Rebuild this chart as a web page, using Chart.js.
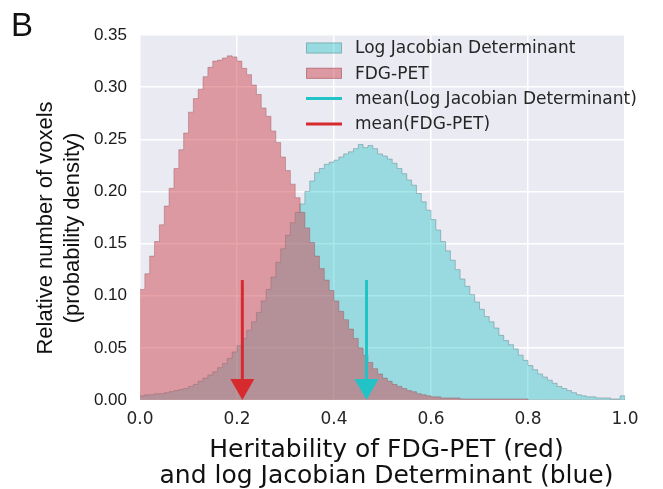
<!DOCTYPE html>
<html>
<head>
<meta charset="utf-8">
<script src="https://cdn.jsdelivr.net/npm/chart.js@4.4.1/dist/chart.umd.min.js"></script>
<style>
  html, body { margin: 0; padding: 0; background: #fff; }
  #wrap { width: 663px; height: 489px; }
</style>
</head>
<body>
<div id="wrap"><canvas id="histChart" width="663" height="489"></canvas></div>
<script>
// histogram bins: left edges from 0.0, 0.01 wide
var binStart = 0.0;
var binWidth = 0.01;

var fdgPet = [
  0.106, 0.121, 0.138, 0.152, 0.168, 0.186, 0.203, 0.222, 0.240, 0.256,
  0.276, 0.289, 0.298, 0.310, 0.319, 0.325, 0.326, 0.328, 0.330, 0.329,
  0.325, 0.318, 0.312, 0.302, 0.293, 0.280, 0.272, 0.258, 0.247, 0.233,
  0.220, 0.207, 0.194, 0.180, 0.165, 0.151, 0.138, 0.126, 0.115, 0.105,
  0.095, 0.085, 0.077, 0.068, 0.059, 0.050, 0.043, 0.036, 0.030, 0.025,
  0.021, 0.018, 0.015, 0.013, 0.011, 0.009, 0.008, 0.006, 0.005, 0.004,
  0.003, 0.003, 0.002, 0.002, 0.002, 0.002, 0.001, 0.001, 0.001, 0.001,
  0.001, 0.001, 0.001, 0.001, 0.001, 0.001, 0.001, 0.001, 0.001, 0.001,
  0, 0, 0, 0, 0, 0, 0, 0, 0, 0,
  0, 0, 0, 0, 0, 0, 0, 0, 0, 0
];

var logJacobian = [
  0.004, 0.005, 0.005, 0.006, 0.006, 0.007, 0.008, 0.009, 0.010, 0.011,
  0.013, 0.015, 0.018, 0.021, 0.024, 0.027, 0.031, 0.035, 0.040, 0.046,
  0.052, 0.059, 0.067, 0.075, 0.084, 0.095, 0.106, 0.118, 0.132, 0.145,
  0.158, 0.170, 0.180, 0.188, 0.200, 0.210, 0.218, 0.222, 0.226, 0.228,
  0.230, 0.233, 0.236, 0.238, 0.241, 0.245, 0.242, 0.244, 0.241, 0.236,
  0.234, 0.231, 0.227, 0.222, 0.217, 0.211, 0.206, 0.198, 0.190, 0.182,
  0.173, 0.163, 0.152, 0.143, 0.134, 0.125, 0.116, 0.109, 0.101, 0.094,
  0.087, 0.080, 0.075, 0.069, 0.062, 0.057, 0.053, 0.049, 0.043, 0.038,
  0.033, 0.029, 0.025, 0.022, 0.019, 0.016, 0.013, 0.011, 0.009, 0.007,
  0.005, 0.004, 0.003, 0.003, 0.002, 0.002, 0.002, 0.001, 0.001, 0.004
];

// means: [log Jacobian, FDG-PET]
var meanValues = [0.467, 0.211];
var arrowStart = 0.115;

var xTicks = [0.0, 0.2, 0.4, 0.6, 0.8, 1.0];
var yTicks = [0.00, 0.05, 0.10, 0.15, 0.20, 0.25, 0.30, 0.35];

var legendLabels = ['Log Jacobian Determinant', 'FDG-PET',
  'mean(Log Jacobian Determinant)', 'mean(FDG-PET)'];

var cyanFill = 'rgba(0,190,192,0.35)';
var redFill = 'rgba(208,72,82,0.5)';
var meanColors = ['#22c3c6', '#d62a2e'];

function toPoints(values) {
  var pts = values.map(function (v, i) {
    return { x: binStart + i * binWidth, y: v };
  });
  pts.push({ x: binStart + values.length * binWidth, y: 0 });
  return pts;
}

// grey seaborn-like plot background
var plotBg = {
  id: 'plotBg',
  beforeDraw: function (chart) {
    var a = chart.chartArea, ctx = chart.ctx;
    ctx.save();
    ctx.fillStyle = '#eaeaf2';
    ctx.fillRect(a.left, a.top, a.right - a.left, a.bottom - a.top);
    ctx.restore();
  }
};

// arrows at the means
var meanArrows = {
  id: 'meanArrows',
  afterDatasetsDraw: function (chart) {
    var xs = chart.scales.x, ys = chart.scales.y, ctx = chart.ctx;
    meanValues.forEach(function (m, i) {
      var px = xs.getPixelForValue(m);
      var top = ys.getPixelForValue(arrowStart);
      var base = ys.getPixelForValue(0);
      ctx.save();
      ctx.strokeStyle = meanColors[i];
      ctx.fillStyle = meanColors[i];
      ctx.lineWidth = 3;
      ctx.beginPath();
      ctx.moveTo(px, top);
      ctx.lineTo(px, base - 18);
      ctx.stroke();
      ctx.beginPath();
      ctx.moveTo(px - 12, base - 21);
      ctx.lineTo(px + 12, base - 21);
      ctx.lineTo(px, base);
      ctx.closePath();
      ctx.fill();
      ctx.restore();
    });
  }
};

// legend without frame, top right inside plot
var histLegend = {
  id: 'histLegend',
  afterDraw: function (chart) {
    var ctx = chart.ctx, a = chart.chartArea;
    var x0 = 306, y0 = a.top + 13, step = 25.3;
    var swatch = [
      { kind: 'patch', fill: cyanFill, edge: 'rgba(90,130,135,0.45)' },
      { kind: 'patch', fill: redFill, edge: 'rgba(150,80,90,0.45)' },
      { kind: 'line', color: meanColors[0] },
      { kind: 'line', color: meanColors[1] }
    ];
    ctx.save();
    legendLabels.forEach(function (lab, i) {
      var cy = y0 + i * step;
      var s = swatch[i];
      if (s.kind === 'patch') {
        ctx.fillStyle = s.fill;
        ctx.fillRect(x0, cy - 5.5, 36, 11);
        ctx.strokeStyle = s.edge;
        ctx.lineWidth = 1;
        ctx.strokeRect(x0 + 0.5, cy - 5, 35, 10);
      } else {
        ctx.strokeStyle = s.color;
        ctx.lineWidth = 3;
        ctx.beginPath();
        ctx.moveTo(x0, cy);
        ctx.lineTo(x0 + 36, cy);
        ctx.stroke();
      }
      ctx.fillStyle = '#262626';
      ctx.font = '17px "DejaVu Sans"';
      ctx.textAlign = 'left';
      ctx.textBaseline = 'middle';
      ctx.fillText(lab, 355, cy + 1);
    });
    ctx.restore();
  }
};

// panel letter and axis titles
var axisTitles = {
  id: 'axisTitles',
  afterDraw: function (chart) {
    var ctx = chart.ctx, a = chart.chartArea;
    ctx.save();
    ctx.fillStyle = '#111';
    ctx.font = '33px "Liberation Sans"';
    ctx.textAlign = 'left';
    ctx.textBaseline = 'alphabetic';
    ctx.fillText('B', 11, 36);

    ctx.font = '22px "Liberation Sans"';
    ctx.textAlign = 'center';
    ctx.textBaseline = 'middle';
    var yLines = ['Relative number of voxels', '(probability density)'];
    yLines.forEach(function (t, i) {
      ctx.save();
      ctx.translate(46 + i * 27, 228);
      ctx.rotate(-Math.PI / 2);
      ctx.fillText(t, 0, 0);
      ctx.restore();
    });

    ctx.font = '25px "DejaVu Sans"';
    ctx.textBaseline = 'alphabetic';
    var cx = (a.left + a.right) / 2 + 4;
    ctx.fillText('Heritability of FDG-PET (red)', cx, 457);
    ctx.fillText('and log Jacobian Determinant (blue)', cx, 483);
    ctx.restore();
  }
};

var ctx1 = document.getElementById('histChart').getContext('2d');
var histChart = new Chart(ctx1, {
  type: 'line',
  data: {
    datasets: [{
      label: 'FDG-PET',
      data: toPoints(fdgPet),
      stepped: true,
      fill: 'origin',
      backgroundColor: redFill,
      borderColor: 'rgba(150,80,90,0.4)',
      borderWidth: 1,
      pointRadius: 0,
      order: 1
    }, {
      label: 'Log Jacobian Determinant',
      data: toPoints(logJacobian),
      stepped: true,
      fill: 'origin',
      backgroundColor: cyanFill,
      borderColor: 'rgba(90,130,135,0.45)',
      borderWidth: 1,
      pointRadius: 0,
      order: 2
    }]
  },
  options: {
    responsive: false,
    animation: false,
    layout: { padding: { left: 0, right: 38, top: 35, bottom: 0 } },
    plugins: {
      legend: { display: false },
      tooltip: { enabled: false }
    },
    scales: {
      x: {
        type: 'linear',
        min: 0,
        max: 1,
        afterBuildTicks: function (s) { s.ticks = xTicks.map(function (v) { return { value: v }; }); },
        afterFit: function (s) { s.height = 89; },
        ticks: {
          callback: function (v) { return v.toFixed(1); },
          font: { family: 'DejaVu Sans', size: 17 },
          color: '#262626',
          padding: 9,
          maxRotation: 0,
          autoSkip: false
        },
        grid: { color: '#ffffff', lineWidth: 1.5, drawTicks: false },
        border: { display: false }
      },
      y: {
        min: 0,
        max: 0.35,
        afterBuildTicks: function (s) { s.ticks = yTicks.map(function (v) { return { value: v }; }); },
        afterFit: function (s) { s.width = 140; },
        ticks: {
          callback: function (v) { return v.toFixed(2); },
          font: { family: 'Liberation Sans', size: 17 },
          color: '#1a1a1a',
          padding: 13,
          autoSkip: false
        },
        grid: { color: '#ffffff', lineWidth: 1.5, drawTicks: false },
        border: { display: false }
      }
    }
  },
  plugins: [plotBg, meanArrows, histLegend, axisTitles]
});
</script>
</body>
</html>
